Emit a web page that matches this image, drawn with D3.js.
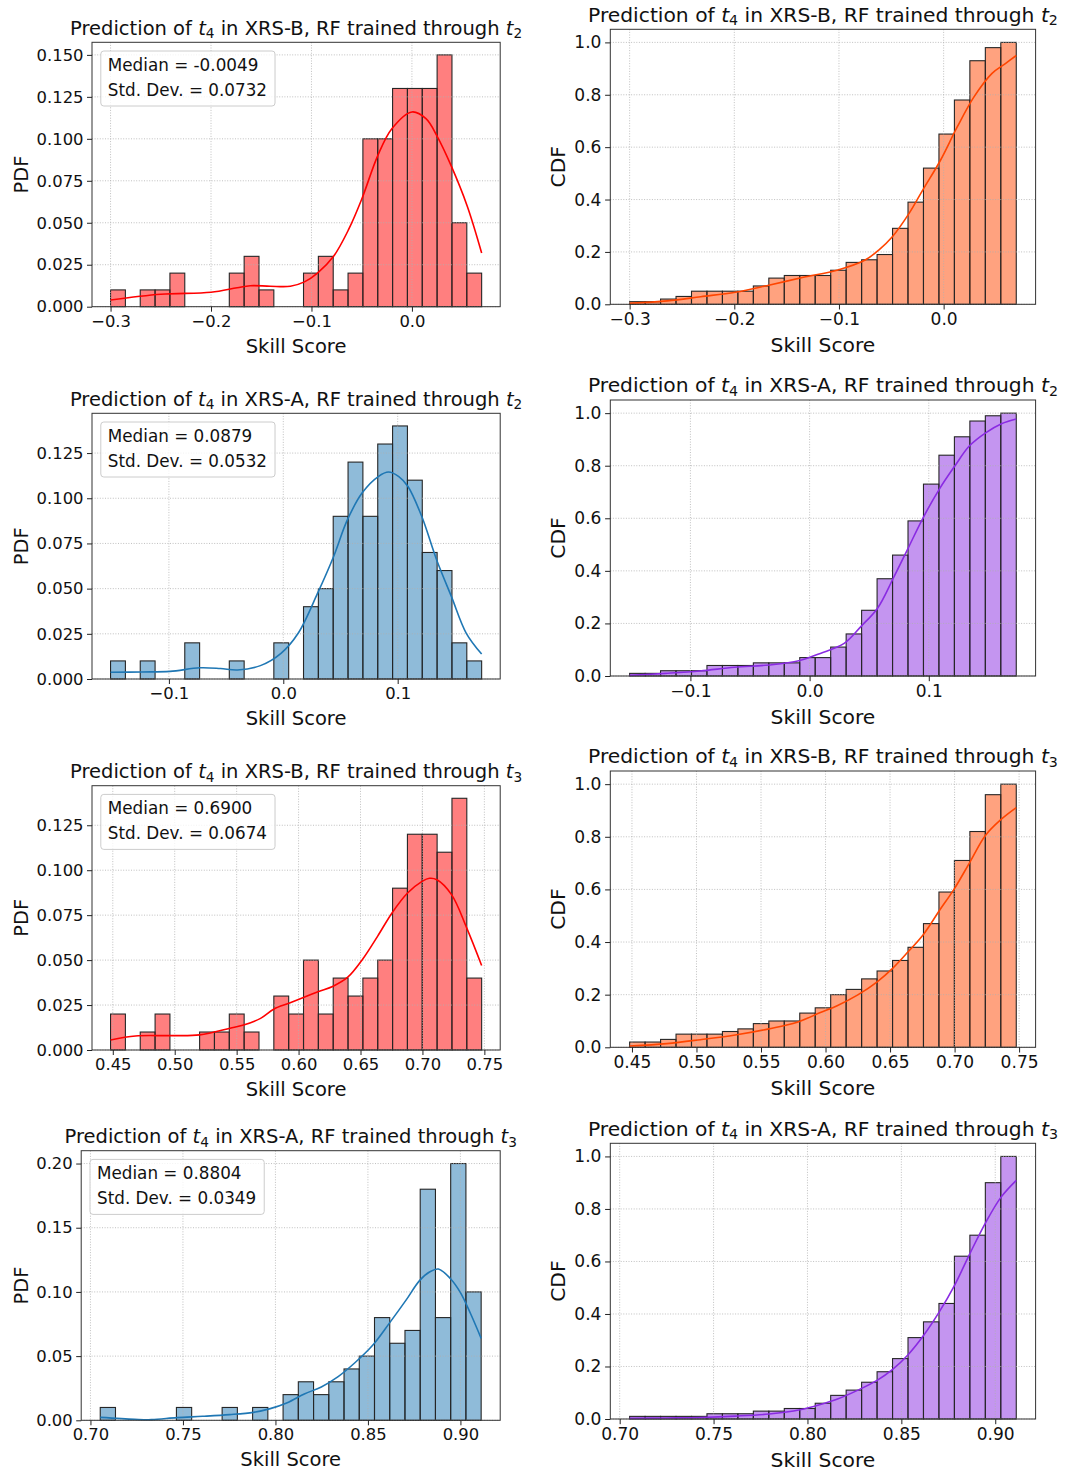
<!DOCTYPE html>
<html><head><meta charset="utf-8">
<script src="https://cdn.jsdelivr.net/npm/d3@7"></script>
<style>
body{margin:0;background:#fff}
svg{display:block}
text{font-family:"DejaVu Sans",sans-serif;fill:#111}
</style>
</head><body>
<svg id="c" width="1065" height="1473"></svg>
<script>
// ---------------- DATA ----------------
const instruments = ["XRS-B","XRS-B","XRS-A","XRS-A","XRS-B","XRS-B","XRS-A","XRS-A"];
const trainedThrough = ["2","2","2","2","3","3","3","3"];
const yLabels = ["PDF","CDF","PDF","CDF","PDF","CDF","PDF","CDF"];
const medians = ["-0.0049","0.0879","0.6900","0.8804"];
const stdDevs = ["0.0732","0.0532","0.0674","0.0349"];

// data range (first bin left edge, last bin right edge), 25 bins each
const range12 = [-0.3, 0.0694];
const range34 = [-0.151, 0.1734];
const range56 = [0.4482, 0.7478];
const range78 = [0.7053, 0.9112];

// histogram bar heights (probability / cumulative)
const pdf1 = [0.01,0,0.01,0.01,0.02,0,0,0,0.02,0.03,0.01,0,0,0.02,0.03,0.01,0.02,0.10,0.10,0.13,0.13,0.13,0.15,0.05,0.02];
const cdf2 = [0.01,0.01,0.02,0.03,0.05,0.05,0.05,0.05,0.07,0.10,0.11,0.11,0.11,0.13,0.16,0.17,0.19,0.29,0.39,0.52,0.65,0.78,0.93,0.98,1.00];
const pdf3 = [0.01,0,0.01,0,0,0.02,0,0,0.01,0,0,0.02,0,0.04,0.05,0.09,0.12,0.09,0.13,0.14,0.11,0.07,0.06,0.02,0.01];
const cdf4 = [0.01,0.01,0.02,0.02,0.02,0.04,0.04,0.04,0.05,0.05,0.05,0.07,0.07,0.11,0.16,0.25,0.37,0.46,0.59,0.73,0.84,0.91,0.97,0.99,1.00];
const pdf5 = [0.02,0,0.01,0.02,0,0,0.01,0.01,0.02,0.01,0,0.03,0.02,0.05,0.02,0.04,0.03,0.04,0.05,0.09,0.12,0.12,0.11,0.14,0.04];
const cdf6 = [0.02,0.02,0.03,0.05,0.05,0.05,0.06,0.07,0.09,0.10,0.10,0.13,0.15,0.20,0.22,0.26,0.29,0.33,0.38,0.47,0.59,0.71,0.82,0.96,1.00];
const pdf7 = [0.01,0,0,0,0,0.01,0,0,0.01,0,0.01,0,0.02,0.03,0.02,0.03,0.04,0.05,0.08,0.06,0.07,0.18,0.08,0.20,0.10];
const cdf8 = [0.01,0.01,0.01,0.01,0.01,0.02,0.02,0.02,0.03,0.03,0.04,0.04,0.06,0.09,0.11,0.14,0.18,0.23,0.31,0.37,0.44,0.62,0.70,0.90,1.00];

// KDE curves (x, y)
const kde1x = [-0.300,-0.250,-0.200,-0.174,-0.161,-0.141,-0.121,-0.107,-0.094,-0.078,-0.063,-0.050,-0.034,-0.020,0.000,0.014,0.025,0.039,0.055,0.0694];
const kde1y = [0.004,0.0074,0.0086,0.0113,0.0125,0.0122,0.0122,0.0148,0.020,0.030,0.046,0.064,0.090,0.106,0.116,0.112,0.1016,0.084,0.060,0.032];
const kde2x = [-0.300,-0.264,-0.232,-0.199,-0.166,-0.134,-0.101,-0.075,-0.062,-0.049,-0.033,-0.020,-0.003,0.013,0.029,0.046,0.059,0.0694];
const kde2y = [0.004,0.013,0.029,0.046,0.074,0.103,0.131,0.169,0.207,0.258,0.347,0.436,0.550,0.677,0.792,0.881,0.919,0.950];
const kde3x = [-0.151,-0.124,-0.099,-0.073,-0.055,-0.040,-0.020,-0.002,0.013,0.030,0.044,0.056,0.069,0.083,0.092,0.101,0.109,0.121,0.134,0.147,0.160,0.1734];
const kde3y = [0.0037,0.0039,0.0042,0.0062,0.0058,0.0050,0.0074,0.0142,0.0253,0.0475,0.0678,0.088,0.103,0.112,0.1145,0.112,0.1065,0.090,0.066,0.0456,0.0253,0.0138];
const kde4x = [-0.151,-0.121,-0.092,-0.063,-0.034,-0.009,0.009,0.029,0.043,0.057,0.070,0.082,0.095,0.109,0.122,0.134,0.148,0.161,0.1734];
const kde4y = [0.0025,0.010,0.019,0.033,0.042,0.058,0.086,0.124,0.188,0.258,0.370,0.480,0.600,0.712,0.800,0.875,0.926,0.960,0.978];
const kde5x = [0.4482,0.4683,0.4956,0.5201,0.5447,0.5556,0.5693,0.5802,0.5922,0.6039,0.6162,0.6279,0.6397,0.6517,0.6640,0.6757,0.6880,0.6997,0.7057,0.7117,0.7235,0.7358,0.7478];
const kde5y = [0.0056,0.0078,0.0080,0.0084,0.0121,0.0139,0.0176,0.0228,0.026,0.0292,0.0325,0.0355,0.0405,0.0505,0.0635,0.0765,0.0873,0.0938,0.0955,0.0947,0.0864,0.0678,0.047];
const kde6x = [0.4482,0.477,0.503,0.530,0.556,0.578,0.596,0.609,0.625,0.640,0.652,0.664,0.676,0.688,0.700,0.712,0.724,0.736,0.7478];
const kde6y = [0.005,0.014,0.029,0.047,0.070,0.095,0.132,0.158,0.199,0.249,0.300,0.363,0.430,0.518,0.604,0.705,0.806,0.866,0.911];
const kde7x = [0.7053,0.7239,0.7330,0.7468,0.7606,0.7752,0.7881,0.7972,0.8064,0.8156,0.8248,0.8339,0.8431,0.8523,0.8615,0.8706,0.8780,0.8835,0.8881,0.8945,0.9000,0.9055,0.9112];
const kde7y = [0.0023,0.0008,0.0005,0.0021,0.0031,0.0044,0.0062,0.0091,0.0137,0.0205,0.026,0.034,0.045,0.058,0.0755,0.0936,0.109,0.1157,0.1178,0.1105,0.0995,0.083,0.0638];
const kde8x = [0.7053,0.7251,0.7433,0.7615,0.7796,0.7960,0.8069,0.8160,0.8269,0.8373,0.8455,0.8536,0.8618,0.8702,0.8784,0.8865,0.8949,0.9031,0.9112];
const kde8y = [0.0025,0.004,0.006,0.011,0.019,0.035,0.055,0.076,0.110,0.148,0.190,0.245,0.318,0.408,0.510,0.630,0.748,0.845,0.909];

// tick values
const xTicks12 = [-0.3,-0.2,-0.1,0.0];
const xTicks34 = [-0.1,0.0,0.1];
const xTicks56 = [0.45,0.50,0.55,0.60,0.65,0.70,0.75];
const xTicks78 = [0.70,0.75,0.80,0.85,0.90];
const yTicksPdf = [0,0.025,0.05,0.075,0.1,0.125,0.15];
const yTicksPdf7 = [0,0.05,0.1,0.15,0.2];
const yTicksCdf = [0,0.2,0.4,0.6,0.8,1.0];

// ---------------- LAYOUT / STYLE ----------------
const layout = [
  {l:92.0, r:500.2, t:42.3,  b:306.7,  ylx:28,    s:1},
  {l:610.3,r:1035.6,t:29.3,  b:304.3,  ylx:564.6, s:1.04},
  {l:92.0, r:500.2, t:413.3, b:679,    ylx:28,    s:1},
  {l:610.3,r:1035.6,t:400,   b:676,    ylx:564.6, s:1.04},
  {l:92.0, r:500.2, t:785.7, b:1050,   ylx:28,    s:1},
  {l:610.3,r:1035.6,t:771,   b:1047.3, ylx:564.6, s:1.04},
  {l:81.2, r:500.2, t:1150.7,b:1420.3, ylx:28,    s:1},
  {l:610.3,r:1035.6,t:1143.3,b:1419,   ylx:564.6, s:1.04}
];
const colors = ["#ff0000","#ff4500","#1f77b4","#8a2be2","#ff0000","#ff4500","#1f77b4","#8a2be2"];
const heights = [pdf1,cdf2,pdf3,cdf4,pdf5,cdf6,pdf7,cdf8];
const ranges = [range12,range12,range34,range34,range56,range56,range78,range78];
const kx = [kde1x,kde2x,kde3x,kde4x,kde5x,kde6x,kde7x,kde8x];
const ky = [kde1y,kde2y,kde3y,kde4y,kde5y,kde6y,kde7y,kde8y];
const xt = [xTicks12,xTicks12,xTicks34,xTicks34,xTicks56,xTicks56,xTicks78,xTicks78];
const yt = [yTicksPdf,yTicksCdf,yTicksPdf,yTicksCdf,yTicksPdf,yTicksCdf,yTicksPdf7,yTicksCdf];
const xf = [".1f",".1f",".1f",".1f",".2f",".2f",".2f",".2f"];
const yf = [".3f",".1f",".3f",".1f",".3f",".1f",".2f",".1f"];

const FS_TICK = 16.4, FS_LABEL = 19.5, FS_LEG = 16.8;
const svg = d3.select("#c");

function panel(i){
  const L = layout[i];
  const s = L.s;
  const fT = FS_TICK*s, fL = FS_LABEL*s;
  const g = svg.append("g");
  const [lo, hi] = ranges[i];
  const h = heights[i];
  const n = h.length;
  const span = hi - lo;
  const x = d3.scaleLinear().domain([lo - 0.05*span, hi + 0.05*span]).range([L.l, L.r]);
  const y = d3.scaleLinear().domain([0, d3.max(h)*1.05]).range([L.b, L.t]);
  const bw = span / n;
  const bins = h.map((v,k)=>({x0: lo + k*bw, x1: lo + (k+1)*bw, v}));
  const xTv = xt[i].filter(t=>t>=x.domain()[0] && t<=x.domain()[1]);
  const yTv = yt[i].filter(t=>t>=y.domain()[0] && t<=y.domain()[1]+1e-9);

  // bars
  g.append("g").selectAll("rect").data(bins.filter(d=>d.v>0)).join("rect")
    .attr("x", d=>x(d.x0)).attr("width", d=>x(d.x1)-x(d.x0))
    .attr("y", d=>y(d.v)).attr("height", d=>y(0)-y(d.v))
    .attr("fill", colors[i]).attr("fill-opacity",0.5)
    .attr("stroke","#262626").attr("stroke-width",1.1);

  // grid (above patches, below lines)
  const grid = g.append("g").attr("stroke","#b0b0b0").attr("stroke-width",0.8).attr("stroke-dasharray","1,1.6");
  xTv.forEach(t=>grid.append("line").attr("x1",x(t)).attr("x2",x(t)).attr("y1",L.t).attr("y2",L.b));
  yTv.forEach(t=>grid.append("line").attr("x1",L.l).attr("x2",L.r).attr("y1",y(t)).attr("y2",y(t)));

  // kde
  const pts = kx[i].map((v,k)=>[v, ky[i][k]]);
  g.append("path").datum(pts)
    .attr("d", d3.line().x(d=>x(d[0])).y(d=>y(d[1])).curve(d3.curveCatmullRom.alpha(0.5)))
    .attr("fill","none").attr("stroke",colors[i]).attr("stroke-width",1.6);

  // spines
  g.append("rect").attr("x",L.l).attr("y",L.t).attr("width",L.r-L.l).attr("height",L.b-L.t)
    .attr("fill","none").attr("stroke","#333").attr("stroke-width",1);

  // x axis
  const xa = g.append("g").attr("transform",`translate(0,${L.b})`)
    .call(d3.axisBottom(x).tickValues(xTv).tickFormat(d3.format(xf[i])).tickSize(5*s).tickPadding(3.5*s));
  xa.select(".domain").remove();
  xa.selectAll("line").attr("stroke","#222");
  xa.selectAll("text").attr("font-size",fT).attr("font-family","DejaVu Sans").attr("fill","#111");

  const ya = g.append("g").attr("transform",`translate(${L.l},0)`)
    .call(d3.axisLeft(y).tickValues(yTv).tickFormat(d3.format(yf[i])).tickSize(5*s).tickPadding(3.5*s));
  ya.select(".domain").remove();
  ya.selectAll("line").attr("stroke","#222");
  ya.selectAll("text").attr("font-size",fT).attr("font-family","DejaVu Sans").attr("fill","#111");

  // labels
  g.append("text").attr("x",(L.l+L.r)/2).attr("y",L.b+46*s).attr("text-anchor","middle")
    .attr("font-size",fL).text("Skill Score");
  g.append("text").attr("transform",`translate(${L.ylx},${(L.t+L.b)/2}) rotate(-90)`)
    .attr("text-anchor","middle").attr("font-size",fL).text(yLabels[i]);

  // title
  const tt = g.append("text").attr("x",(L.l+L.r)/2).attr("y",L.t-7.5*s).attr("text-anchor","middle")
    .attr("font-size",fL);
  tt.append("tspan").text("Prediction of ");
  tt.append("tspan").attr("font-style","italic").text("t");
  tt.append("tspan").attr("font-size",fL*0.7).attr("dy",3.5*s).text("4");
  tt.append("tspan").attr("dy",-3.5*s).text(" in " + instruments[i] + ", RF trained through ");
  tt.append("tspan").attr("font-style","italic").text("t");
  tt.append("tspan").attr("font-size",fL*0.7).attr("dy",3.5*s).text(trainedThrough[i]);

  // legend (PDF panels)
  if (i % 2 === 0){
    const j = i/2;
    const bx = L.l + 8.8, by = L.t + 8.7;
    const lg = g.append("g");
    const box = lg.append("rect").attr("x",bx).attr("y",by).attr("rx",3).attr("ry",3)
      .attr("fill","#fff").attr("fill-opacity",0.8).attr("stroke","#cccccc").attr("stroke-width",1);
    const t1 = lg.append("text").attr("x",bx+7).attr("y",by+20).attr("font-size",FS_LEG).text("Median = " + medians[j]);
    const t2 = lg.append("text").attr("x",bx+7).attr("y",by+45).attr("font-size",FS_LEG).text("Std. Dev. = " + stdDevs[j]);
    const w = Math.max(t1.node().getComputedTextLength(), t2.node().getComputedTextLength());
    box.attr("width", w + 15).attr("height", 55);
  }
}
for (let i=0;i<8;i++) panel(i);
</script>
</body></html>
